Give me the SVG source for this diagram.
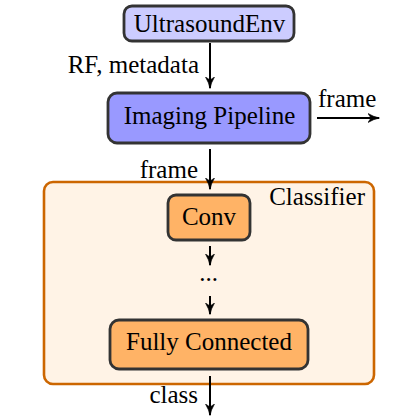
<svg xmlns="http://www.w3.org/2000/svg" width="420" height="420" viewBox="0 0 420 420" font-family="Liberation Serif" font-size="25">
<defs>
<style>
.node{stroke:#333;stroke-width:2.8}
.edge{stroke:#000;stroke-width:2;fill:none;marker-end:url(#arr)}
</style>
<marker id="arr" viewBox="0 0 12 10" refX="11.5" refY="5" markerWidth="12" markerHeight="10" markerUnits="userSpaceOnUse" orient="auto">
<path d="M0.5,0.5 Q6,3.8 12,5 Q6,6.2 0.5,9.5 L3.5,5 Z" fill="#000" stroke="#000" stroke-width="0.6" stroke-linejoin="round"/>
</marker>
</defs>
<rect width="420" height="420" fill="#fff"/>
<g id="classifier">
<rect x="44" y="182" width="330" height="202" rx="9" fill="#fff3e6" stroke="#cc6600" stroke-width="2.6"/>
<text x="365" y="205" text-anchor="end">Classifier</text>
</g>
<g id="env">
<rect class="node" x="124" y="6" width="170" height="35" rx="8" fill="#ccccff"/>
<text x="209.5" y="32" text-anchor="middle">UltrasoundEnv</text>
</g>
<g id="pipeline">
<rect class="node" x="108" y="93" width="202" height="50" rx="9" fill="#9999ff"/>
<text x="209.5" y="124" text-anchor="middle">Imaging Pipeline</text>
</g>
<g id="conv">
<rect class="node" x="168" y="195" width="82" height="45" rx="8" fill="#ffb366"/>
<text x="209" y="225" text-anchor="middle">Conv</text>
</g>
<g id="dots">
<text x="208.5" y="281" text-anchor="middle">...</text>
</g>
<g id="fc">
<rect class="node" x="110" y="320" width="198" height="49" rx="9" fill="#ffb366"/>
<text x="209" y="350" text-anchor="middle">Fully Connected</text>
</g>
<g id="connectors">
<line class="edge" x1="210" y1="43" x2="210" y2="88"/>
<text x="199" y="73" text-anchor="end">RF, metadata</text>
<line class="edge" x1="317" y1="118" x2="379" y2="118"/>
<text x="318" y="107">frame</text>
<line class="edge" x1="210" y1="149" x2="210" y2="189"/>
<text x="198" y="178" text-anchor="end">frame</text>
<line class="edge" x1="210" y1="246" x2="210" y2="265"/>
<line class="edge" x1="210" y1="296" x2="210" y2="314"/>
<line class="edge" x1="210" y1="376" x2="210" y2="415"/>
<text x="198" y="403" text-anchor="end">class</text>
</g>
</svg>
